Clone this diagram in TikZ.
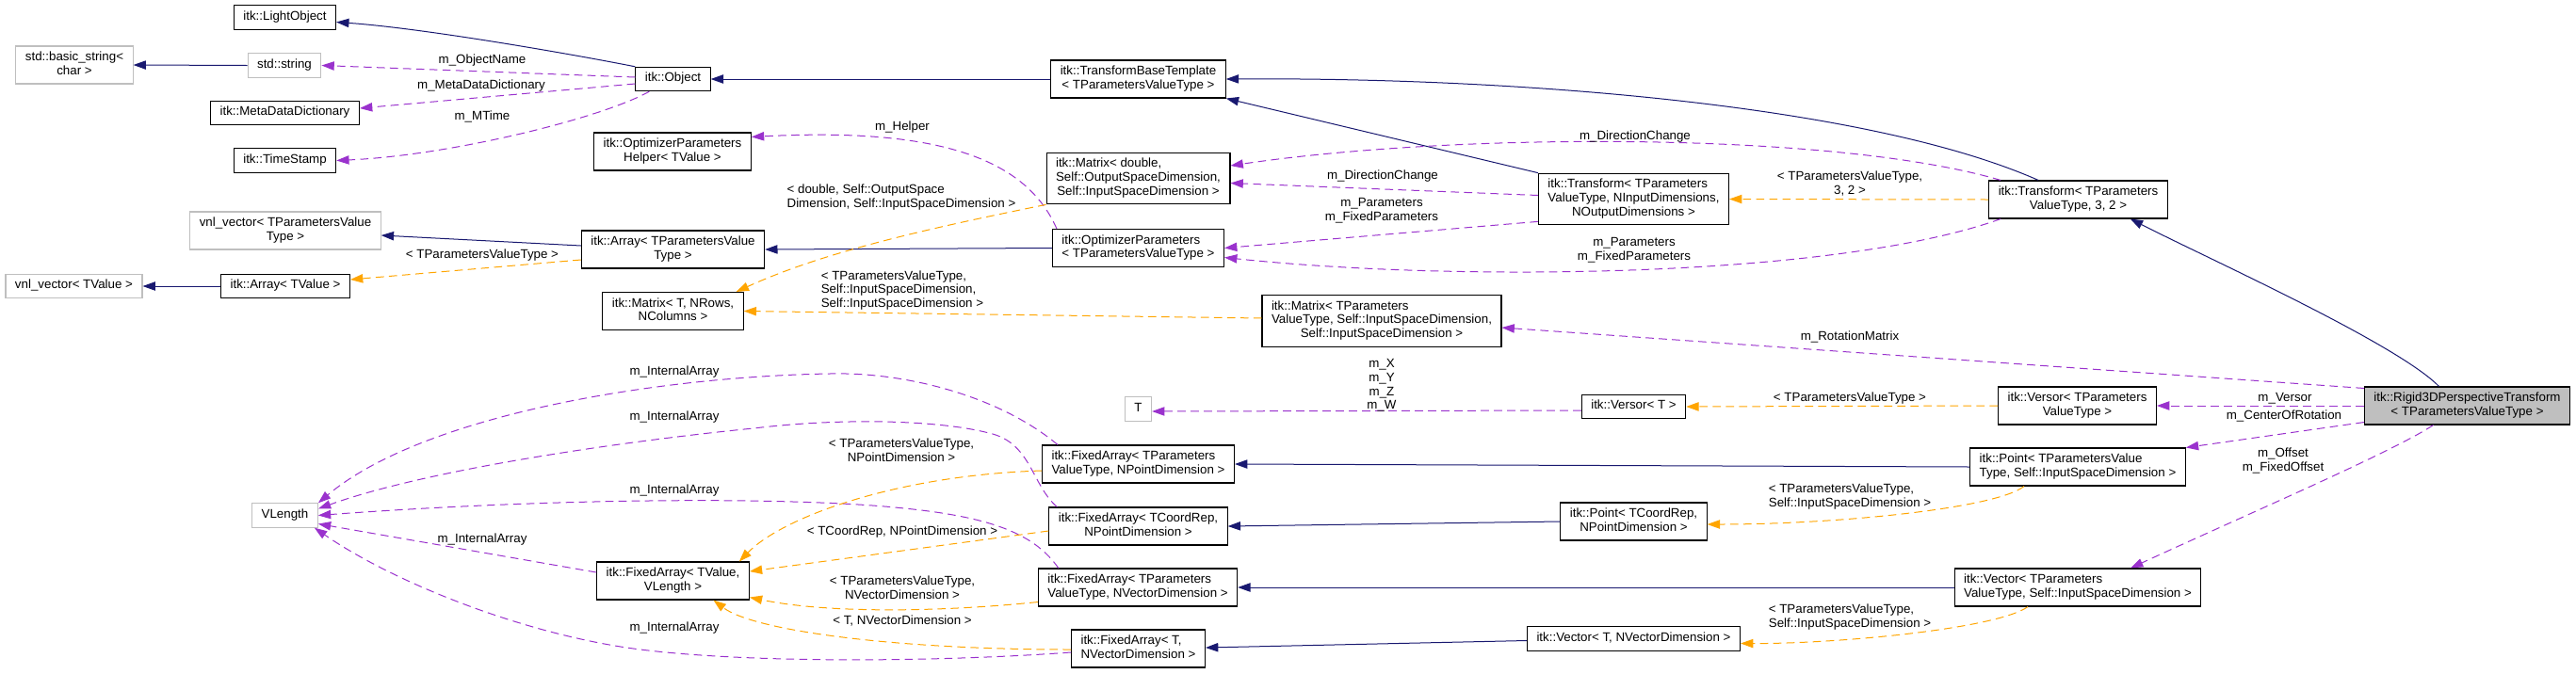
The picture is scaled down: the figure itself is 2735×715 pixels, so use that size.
\documentclass[tikz,border=0pt]{standalone}
\usepackage{fontspec}
\setmainfont{Liberation Sans}
\usetikzlibrary{arrows.meta,calc}
\definecolor{inhblue}{HTML}{191970}
\definecolor{memviolet}{HTML}{9A32CD}
\definecolor{tplorange}{HTML}{FFA500}
\definecolor{extgray}{HTML}{BFBFBF}
\newcommand{\cname}[1]{\begin{tabular}{@{}c@{}}#1\end{tabular}}
\newcommand{\cnamel}[2]{\begin{tabular}{@{}l@{}}#1\\\multicolumn{1}{@{}c@{}}{#2}\end{tabular}}
\tikzset{
  cls/.style={draw=black, fill=white, line width=0.8pt, inner xsep=7.5pt, inner ysep=4pt, font=\fontsize{10}{11}\selectfont},
  ext/.style={cls, draw=extgray},
  cur/.style={cls, fill=extgray},
  lbl/.style={inner sep=0pt, font=\fontsize{10}{11}\selectfont},
  inh/.style={draw=inhblue, line width=0.75pt, -{Triangle[length=10pt,width=7pt]}},
  mem/.style={draw=memviolet, line width=0.75pt, dash pattern=on 6.5pt off 4pt, -{Triangle[length=10pt,width=7pt]}},
  tpl/.style={mem, draw=tplorange}
}
\begin{document}
\begin{tikzpicture}[x=0.75pt, y=-0.75pt]
  \useasboundingbox (0,0) rectangle (2735,715);
  \node[cls] (lightobj) at (302.5,18.5) {\cname{itk::LightObject}};
  \node[ext] (basicstr) at (79,69) {\cnamel{std::basic\_string<}{char >}};
  \node[ext] (stdstr) at (302,69.5) {\cname{std::string}};
  \node[cls] (metadict) at (302.5,120) {\cname{itk::MetaDataDictionary}};
  \node[cls] (timestamp) at (302.5,170.5) {\cname{itk::TimeStamp}};
  \node[cls] (object) at (714.5,84) {\cname{itk::Object}};
  \node[cls] (opthelper) at (714,161) {\cnamel{itk::OptimizerParameters}{Helper< TValue >}};
  \node[cls] (tbt) at (1208.5,84) {\cnamel{itk::TransformBaseTemplate}{< TParametersValueType >}};
  \node[cls] (matdbl) at (1208.5,189.5) {\cnamel{itk::Matrix< double,\\ Self::OutputSpaceDimension,}{Self::InputSpaceDimension >}};
  \node[cls] (trgen) at (1734.5,211.5) {\cnamel{itk::Transform< TParameters\\ValueType, NInputDimensions,}{NOutputDimensions >}};
  \node[cls] (tr32) at (2206.5,212) {\cnamel{itk::Transform< TParameters}{ValueType, 3, 2 >}};
  \node[ext] (vnlpv) at (303,245) {\cnamel{vnl\_vector< TParametersValue}{Type >}};
  \node[cls] (arrpv) at (714.5,265) {\cnamel{itk::Array< TParametersValue}{Type >}};
  \node[ext] (vnltv) at (78.5,304) {\cname{vnl\_vector< TValue >}};
  \node[cls] (arrtv) at (303,304) {\cname{itk::Array< TValue >}};
  \node[cls] (matt) at (714.5,330.5) {\cnamel{itk::Matrix< T, NRows,}{NColumns >}};
  \node[cls] (optpar) at (1208.5,263.5) {\cnamel{itk::OptimizerParameters}{< TParametersValueType >}};
  \node[cls] (matpv) at (1467,341) {\cnamel{itk::Matrix< TParameters\\ValueType, Self::InputSpaceDimension,}{Self::InputSpaceDimension >}};
  \node[ext] (tnode) at (1208.5,434.5) {\cname{T}};
  \node[cls] (versort) at (1734.5,432) {\cname{itk::Versor< T >}};
  \node[cls] (versorpv) at (2205.5,431) {\cnamel{itk::Versor< TParameters}{ValueType >}};
  \node[cur] (rigid) at (2619.5,431) {\cnamel{itk::Rigid3DPerspectiveTransform}{< TParametersValueType >}};
  \node[ext] (vlength) at (302.5,547.5) {\cname{VLength}};
  \node[cls] (fatv) at (714.5,617) {\cnamel{itk::FixedArray< TValue,}{VLength >}};
  \node[cls] (fapvp) at (1208.5,493) {\cnamel{itk::FixedArray< TParameters}{ValueType, NPointDimension >}};
  \node[cls] (facr) at (1208.5,559) {\cnamel{itk::FixedArray< TCoordRep,}{NPointDimension >}};
  \node[cls] (fapvv) at (1208,624) {\cnamel{itk::FixedArray< TParameters}{ValueType, NVectorDimension >}};
  \node[cls] (fatn) at (1208.5,689) {\cnamel{itk::FixedArray< T,}{NVectorDimension >}};
  \node[cls] (pointcr) at (1734.5,554) {\cnamel{itk::Point< TCoordRep,}{NPointDimension >}};
  \node[cls] (vectort) at (1734.5,678.5) {\cname{itk::Vector< T, NVectorDimension >}};
  \node[cls] (pointpv) at (2206,496) {\cnamel{itk::Point< TParametersValue}{Type, Self::InputSpaceDimension >}};
  \node[cls] (vectorpv) at (2206,624) {\cnamel{itk::Vector< TParameters}{ValueType, Self::InputSpaceDimension >}};

  \draw[inh] (object.north west) .. controls (610,58) and (450,30) .. ($(lightobj.east)+(0,5)$);
  \draw[inh] (stdstr.west) -- (basicstr.east);
  \draw[inh] (tbt.west) -- (object.east);
  \draw[inh] (trgen.north west) -- (tbt.south east);
  \draw[inh] ($(tr32.north west)+(53,0)$) .. controls (1980,110) and (1600,82) .. (tbt.east);
  \draw[inh] ($(rigid.north)+(-30,0)$) .. controls (2545,365) and (2345,275) .. ($(tr32.south east)+(-40,0)$);
  \draw[inh] ($(arrpv.west)+(0,-4)$) -- ($(vnlpv.east)+(0,5)$);
  \draw[inh] (arrtv.west) -- (vnltv.east);
  \draw[inh] (optpar.west) -- (arrpv.east);
  \draw[inh] (pointpv.west) -- (fapvp.east);
  \draw[inh] (pointcr.west) -- (facr.east);
  \draw[inh] (vectorpv.west) -- (fapvv.east);
  \draw[inh] ($(vectort.west)+(0,2)$) -- ($(fatn.east)+(0,-1)$);

  \draw[mem] ($(object.west)+(0,-2)$) -- (stdstr.east);
  \draw[mem] ($(object.west)+(0,5)$) -- ($(metadict.east)+(0,-5)$);
  \draw[mem] ($(object.south west)+(15,0)$) .. controls (640,125) and (480,165) .. (timestamp.east);
  \draw[mem] ($(optpar.north west)+(5,0)$) .. controls (1090,170) and (1000,135) .. ($(opthelper.north east)+(0,5)$);
  \draw[mem] ($(trgen.west)+(0,-4)$) -- ($(matdbl.east)+(0,5)$);
  \draw[mem] ($(tr32.north west)+(13,0)$) .. controls (1950,140) and (1550,140) .. ($(matdbl.east)+(0,-13.5)$);
  \draw[mem] ($(trgen.south west)+(0,-4)$) -- (optpar.east);
  \draw[mem] ($(tr32.south west)+(13,0)$) .. controls (1950,295) and (1550,300) .. ($(optpar.east)+(0,10)$);
  \draw[mem] ($(rigid.north west)+(0,2)$) -- ($(matpv.east)+(0,7)$);
  \draw[mem] (rigid.west) -- (versorpv.east);
  \draw[mem] ($(rigid.south west)+(0,-3)$) -- (pointpv.north east);
  \draw[mem] ($(rigid.south)+(-36,0)$) .. controls (2540,480) and (2400,540) .. ($(vectorpv.north)+(56,0)$);
  \draw[mem] ($(versort.west)+(0,4)$) -- ($(tnode.east)+(0,2.5)$);
  \draw[mem] ($(fapvp.north west)+(17,0)$) .. controls (1060,420) and (960,395) .. (881,397) .. controls (700,400) and (450,440) .. (vlength.north east);
  \draw[mem] ($(facr.north west)+(9,0)$) .. controls (1095,515) and (1095,470) .. (1050,460) .. controls (1000,447) and (900,443) .. (800,455) .. controls (650,470) and (450,500) .. ($(vlength.east)+(0,-7)$);
  \draw[mem] ($(fapvv.north west)+(22,0)$) .. controls (1100,570) and (1060,550) .. (960,540) .. controls (850,528) and (600,528) .. (vlength.east);
  \draw[mem] ($(fatv.west)+(0,-9)$) -- ($(vlength.east)+(0,9)$);
  \draw[mem] ($(fatn.west)+(0,4)$) .. controls (1000,703) and (800,705) .. (680,690) .. controls (560,675) and (420,620) .. ($(vlength.south east)+(-4,0)$);

  \draw[tpl] ($(arrpv.west)+(0,11)$) -- ($(arrtv.east)+(0,-7)$);
  \draw[tpl] (matdbl.south west) .. controls (1000,240) and (880,265) .. ($(matt.north east)+(-8,0)$);
  \draw[tpl] ($(matpv.west)+(0,-3)$) -- (matt.east);
  \draw[tpl] (tr32.west) -- (trgen.east);
  \draw[tpl] (versorpv.west) -- (versort.east);
  \draw[tpl] ($(fapvp.west)+(0,7)$) .. controls (950,505) and (830,550) .. ($(fatv.north east)+(-11,0)$);
  \draw[tpl] ($(facr.west)+(0,5)$) -- ($(fatv.east)+(0,-10)$);
  \draw[tpl] ($(fapvv.south west)+(0,-5)$) .. controls (1000,650) and (880,652) .. ($(fatv.south east)+(0,-3)$);
  \draw[tpl] ($(fatn.west)+(0,1)$) .. controls (950,690) and (800,670) .. ($(fatv.south)+(43,0)$);
  \draw[tpl] ($(pointpv.south)+(-57,0)$) .. controls (2120,540) and (1950,557) .. ($(pointcr.east)+(0,3)$);
  \draw[tpl] ($(vectorpv.south)+(-53,0)$) .. controls (2120,668) and (1950,684) .. ($(vectort.east)+(0,5)$);

  \node[lbl] (lobjname) at (512,64) {m\_ObjectName};
  \node[lbl] (lmetadict) at (511,91) {m\_MetaDataDictionary};
  \node[lbl] (lmtime) at (512,124) {m\_MTime};
  \node[lbl] (lhelper) at (958,135) {m\_Helper};
  \node[lbl] (ldira) at (1736,145) {m\_DirectionChange};
  \node[lbl] (ldirb) at (1468,187) {m\_DirectionChange};
  \node[lbl] (lpara) at (1467,224) {\cname{m\_Parameters\\m\_FixedParameters}};
  \node[lbl] (lparb) at (1735,266) {\cname{m\_Parameters\\m\_FixedParameters}};
  \node[lbl] (lmatdbl) at (957,210) {\cnamel{< double, Self::OutputSpace}{Dimension, Self::InputSpaceDimension >}};
  \node[lbl] (ltr32) at (1964,196) {\cnamel{< TParametersValueType,}{3, 2 >}};
  \node[lbl] (larr) at (512,271) {< TParametersValueType >};
  \node[lbl] (lmatpv) at (958,309) {\cnamel{< TParametersValueType,\\Self::InputSpaceDimension,}{Self::InputSpaceDimension >}};
  \node[lbl] (lrot) at (1964,358) {m\_RotationMatrix};
  \node[lbl] (lxyzw) at (1467,410) {\cname{m\_X\\m\_Y\\m\_Z\\m\_W}};
  \node[lbl] (lversor) at (1964,423) {< TParametersValueType >};
  \node[lbl] (lmversor) at (2426,423) {m\_Versor};
  \node[lbl] (lcenter) at (2425,442) {m\_CenterOfRotation};
  \node[lbl] (loffset) at (2424,490) {\cname{m\_Offset\\m\_FixedOffset}};
  \node[lbl] (linta) at (716,395) {m\_InternalArray};
  \node[lbl] (lintb) at (716,443) {m\_InternalArray};
  \node[lbl] (lintc) at (716,521) {m\_InternalArray};
  \node[lbl] (lintd) at (512,573) {m\_InternalArray};
  \node[lbl] (linte) at (716,667) {m\_InternalArray};
  \node[lbl] (lfapvp) at (957,480) {\cnamel{< TParametersValueType,}{NPointDimension >}};
  \node[lbl] (lfacr) at (958,565) {< TCoordRep, NPointDimension >};
  \node[lbl] (lfapvv) at (958,626) {\cnamel{< TParametersValueType,}{NVectorDimension >}};
  \node[lbl] (lfat) at (958,660) {< T, NVectorDimension >};
  \node[lbl] (lpoint) at (1964,528) {\cnamel{< TParametersValueType,}{Self::InputSpaceDimension >}};
  \node[lbl] (lvector) at (1964,656) {\cnamel{< TParametersValueType,}{Self::InputSpaceDimension >}};
\end{tikzpicture}
\end{document}
